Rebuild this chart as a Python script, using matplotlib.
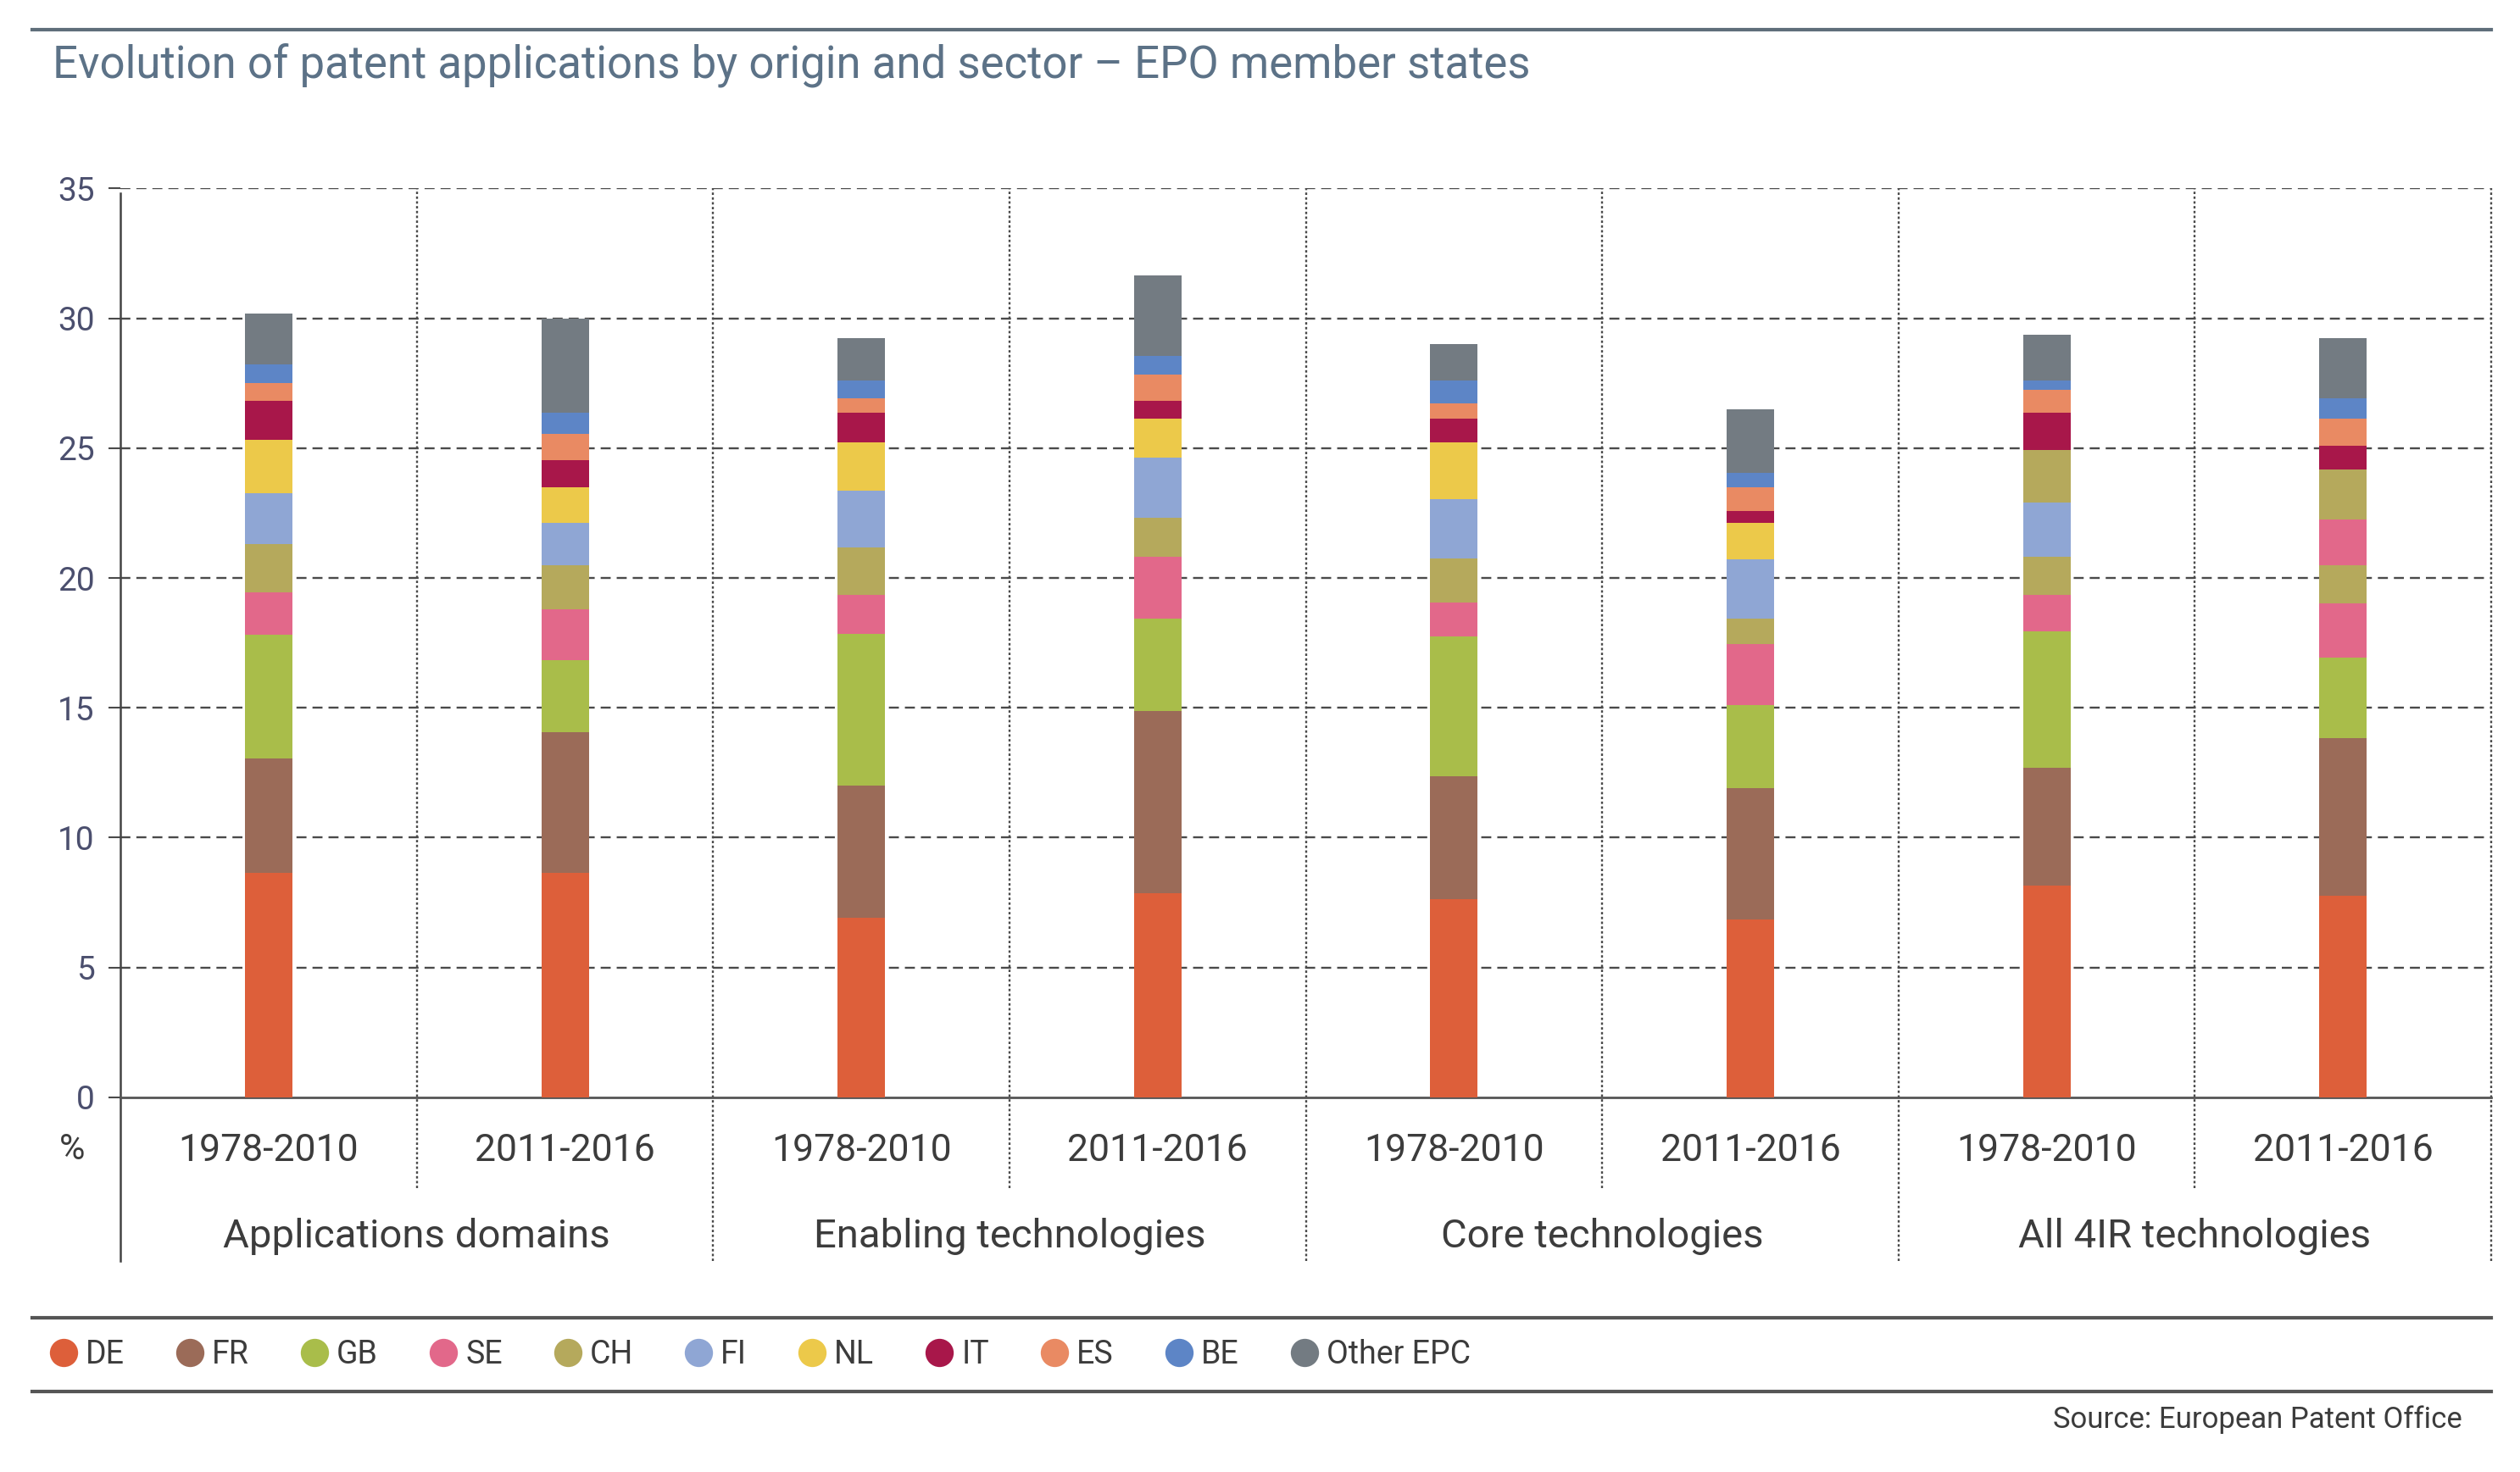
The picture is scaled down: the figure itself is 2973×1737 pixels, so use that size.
import numpy as np
import matplotlib
matplotlib.use("Agg")
import matplotlib.pyplot as plt
from matplotlib import font_manager
from matplotlib.lines import Line2D

# ── data (percent share) ──────────────────────────────────────────────────────
groups  = ["Applications domains", "Enabling technologies",
           "Core technologies", "All 4IR technologies"]
periods = ["1978-2010", "2011-2016"]
origins = ["DE", "FR", "GB", "SE", "CH", "FI", "NL", "IT", "ES", "BE", "Other EPC"]

DE    = [8.65, 8.65, 6.91, 7.85, 7.63, 6.85, 8.15, 7.78]
FR    = [4.41, 5.41, 5.08, 7.02, 4.73, 5.07, 4.54, 6.04]
GB    = [4.75, 2.77, 5.86, 3.55, 5.39, 3.17, 5.27, 3.12]
SE    = [1.64, 1.96, 1.49, 2.40, 1.30, 2.37, 1.38, 2.07]
CH    = [1.85, 1.70, 1.85, 1.50, 1.70, 0.98, 1.48, 1.48]
FI    = [1.96, 1.64, 2.18, 2.31, 2.29, 2.29, 2.07, 1.75]
NL    = [2.07, 1.35, 1.85, 1.51, 2.18, 1.40, 2.05, 1.94]
IT    = [1.49, 1.05, 1.14, 0.68, 0.92, 0.46, 1.42, 0.91]
ES    = [0.69, 1.02, 0.56, 1.02, 0.57, 0.89, 0.89, 1.05]
BE    = [0.72, 0.83, 0.70, 0.70, 0.91, 0.57, 0.37, 0.78]
OTHER = [1.94, 3.60, 1.61, 3.11, 1.38, 2.44, 1.75, 2.31]
series = [DE, FR, GB, SE, CH, FI, NL, IT, ES, BE, OTHER]

COLORS = ["#dd5f3a", "#9b6b58", "#a9bd4a", "#e2688a", "#b5a95c", "#8fa6d4",
          "#ecc94a", "#a8174a", "#e98a63", "#5d85c6", "#737b82"]
# the source chart re-uses colours in the last group
COLOR_OVERRIDE = {(6, 6): "#b5a95c", (7, 5): "#e2688a", (7, 6): "#b5a95c"}

# ── font ──────────────────────────────────────────────────────────────────────
avail = {f.name for f in font_manager.fontManager.ttflist}
FONT = next((f for f in ["Roboto", "DejaVu Sans"] if f in avail), "DejaVu Sans")
plt.rcParams["font.family"] = [FONT, "DejaVu Sans"]

TXT = "#3c3c3c"
GRID = "#4a4a4a"

fig = plt.figure(figsize=(29.73, 17.37), dpi=100)
ax = fig.add_axes([0.0478, 0.2545, 0.9408, 0.6175])

n_bars = len(DE)
x = np.arange(n_bars)
bottom = np.zeros(n_bars)
for k, (vals, col) in enumerate(zip(series, COLORS)):
    cols = [COLOR_OVERRIDE.get((i, k), col) for i in range(n_bars)]
    ax.bar(x, vals, width=0.16, bottom=bottom, color=cols, linewidth=0, zorder=3)
    bottom += np.array(vals)

ax.set_xlim(-0.5, n_bars - 0.5)
ax.set_ylim(0, 35)
ax.set_yticks(np.arange(0, 36, 5))
ax.tick_params(axis="y", length=10, width=1.5, color=GRID, labelsize=28,
               labelcolor="#4b4f6e", pad=12)
ax.set_xticks(x)
ax.set_xticklabels(periods * len(groups))
ax.tick_params(axis="x", length=0, labelsize=32, labelcolor=TXT, pad=30)

for s in ["top", "right", "left"]:
    ax.spines[s].set_visible(False)
ax.spines["bottom"].set_color("#555555")
ax.spines["bottom"].set_linewidth(2)

# horizontal dashed grid
for yv in range(5, 36, 5):
    ax.axhline(yv, color=GRID, lw=1.7, ls=(0, (5, 3)), zorder=1)

# left solid axis line, extending below
ax.plot([-0.5, -0.5], [-6.3, 34.8], color="#444444", lw=1.8, clip_on=False, zorder=2)
# vertical separators
for i in range(n_bars):
    xv = i + 0.5
    y_low = -3.5 if i % 2 == 0 else -6.3
    ax.plot([xv, xv], [y_low, 35], color=GRID, lw=1.7, ls=(0, (1.2, 1.2)),
            clip_on=False, zorder=1)

# group labels
for g, name in enumerate(groups):
    ax.text(2 * g + 0.5, -5.35, name, ha="center", va="center", fontsize=34,
            color=TXT)

fig.text(0.0287, 0.219, "%", ha="center", va="center", fontsize=30, color=TXT)

# title and rules
fig.add_artist(Line2D([0.0128, 0.9885], [0.980, 0.980], color="#5f6e7a", lw=3))
fig.text(0.021, 0.956, "Evolution of patent applications by origin and sector \u2013 EPO member states",
         ha="left", va="center", fontsize=38, color="#5c7287")

fig.add_artist(Line2D([0.0128, 0.9885], [0.105, 0.105], color="#555555", lw=3))
fig.add_artist(Line2D([0.0128, 0.9885], [0.0546, 0.0546], color="#555555", lw=3))

handles = [Line2D([], [], marker="o", ls="", markersize=24, markerfacecolor=c,
                  markeredgewidth=0) for c in COLORS]
fig.legend(handles, origins, loc="center left", bbox_to_anchor=(0.0125, 0.0797),
           ncol=len(origins), frameon=False, fontsize=27, handletextpad=0.2,
           columnspacing=1.55, labelcolor=TXT, borderpad=0, handlelength=1.0)

fig.text(0.977, 0.0357, "Source: European Patent Office", ha="right", va="center",
         fontsize=25, color=TXT)

fig.savefig("out.png", dpi=100)
